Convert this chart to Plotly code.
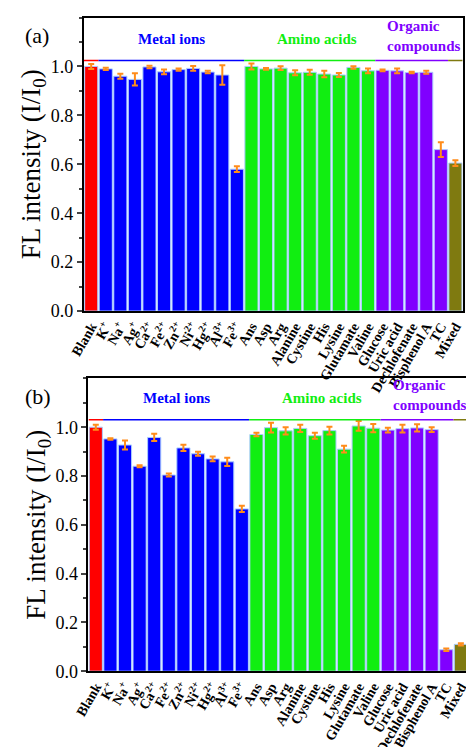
import plotly.graph_objects as go

categories = ["Blank", "K<sup>+</sup>", "Na<sup>+</sup>", "Ag<sup>+</sup>", "Ca<sup>2+</sup>", "Fe<sup>2+</sup>",
              "Zn<sup>2+</sup>", "Ni<sup>2+</sup>", "Hg<sup>2+</sup>", "Al<sup>3+</sup>", "Fe<sup>3+</sup>",
              "Ans", "Asp", "Arg", "Alanine", "Cystine", "His", "Lysine", "Glutamate", "Valine",
              "Glucose", "Uric acid", "Dechlofenate", "Bisphenol A", "TC", "Mixed"]
values_a = [1.0, 0.99, 0.96, 0.947, 0.998, 0.978, 0.987, 0.992, 0.977, 0.965, 0.58,
            1.0, 0.99, 0.993, 0.974, 0.976, 0.969, 0.965, 0.996, 0.982,
            0.984, 0.982, 0.975, 0.976, 0.66, 0.605]
errors_a = [0.01, 0.005, 0.01, 0.025, 0.005, 0.01, 0.005, 0.01, 0.005, 0.04, 0.012,
            0.012, 0.004, 0.008, 0.01, 0.01, 0.013, 0.008, 0.005, 0.01,
            0.004, 0.01, 0.003, 0.006, 0.03, 0.012]
values_b = [1.0, 0.952, 0.927, 0.84, 0.958, 0.804, 0.915, 0.891, 0.87, 0.858, 0.665,
            0.97, 0.998, 0.985, 0.995, 0.965, 0.986, 0.91, 1.005, 0.996,
            0.988, 0.994, 0.997, 0.99, 0.088, 0.11]
errors_b = [0.01, 0.003, 0.018, 0.004, 0.015, 0.006, 0.013, 0.008, 0.01, 0.017, 0.013,
            0.007, 0.02, 0.015, 0.015, 0.012, 0.016, 0.014, 0.02, 0.017,
            0.01, 0.016, 0.015, 0.01, 0.005, 0.005]

RED, BLUE, GREEN, PURPLE, OLIVE = "#ff0000", "#0000ff", "#11ee11", "#8000ff", "#7f7a10"
colors = [RED] + [BLUE] * 10 + [GREEN] * 9 + [PURPLE] * 5 + [OLIVE]
groups = [(-0.5, 0.5, RED), (0.5, 10.5, BLUE), (10.5, 19.5, GREEN), (19.5, 24.5, PURPLE), (24.5, 25.5, OLIVE)]
x = list(range(len(categories)))
font = "Times New Roman, Liberation Serif, serif"

fig = go.Figure()
panels = [("x", "y", values_a, errors_a, [0.133, 0.96], [0.586, 0.987], 1.024, "(a)"),
          ("x2", "y2", values_b, errors_b, [0.143, 0.972], [0.094, 0.494], 1.03, "(b)")]
for i, (xr, yr, vals, errs, dx, dy, lineY, lab) in enumerate(panels):
    fig.add_trace(go.Bar(x=x, y=vals, xaxis=xr, yaxis=yr, marker=dict(color=colors, line=dict(color="#aaccff", width=1)),
                         error_y=dict(type="data", array=errs, color="#ff8c1a", thickness=2, width=3),
                         showlegend=False))
    sfx = "" if i == 0 else "2"
    fig.layout["xaxis" + sfx] = dict(domain=dx, anchor=yr, range=[-0.5, 25.5], tickvals=x, ticktext=["<b>%s</b>" % c for c in categories],
                                     tickangle=-60, tickfont=dict(family=font, size=14, color="black"),
                                     showline=True, linecolor="black", linewidth=2, mirror=True, ticks="")
    fig.layout["yaxis" + sfx] = dict(domain=dy, anchor=xr, range=[0, 1.2], tickvals=[0, 0.2, 0.4, 0.6, 0.8, 1.0],
                                     tickformat=".1f", tickfont=dict(family=font, size=18, color="black"),
                                     ticks="outside", ticklen=5, tickwidth=2, minor=dict(ticks="outside", dtick=0.1, ticklen=3, tickwidth=1.5),
                                     showline=True, linecolor="black", linewidth=2, mirror=True, showgrid=False, zeroline=False,
                                     title=dict(text="FL intensity (I/I<sub>0</sub>)", font=dict(family=font, size=27, color="black"), standoff=2))
    for (a, b, c) in groups:
        fig.add_shape(type="line", xref=xr, yref=yr, x0=a, x1=b, y0=lineY, y1=lineY, line=dict(color=c, width=1.5))
    fig.add_annotation(xref=xr, yref=yr, x=5.5, y=lineY + 0.09, text="<b>Metal ions</b>", showarrow=False,
                       font=dict(family=font, size=15, color=BLUE))
    fig.add_annotation(xref=xr, yref=yr, x=15.5, y=lineY + 0.09, text="<b>Amino acids</b>", showarrow=False,
                       font=dict(family=font, size=15, color=GREEN))
    fig.add_annotation(xref=xr, yref=yr, x=20.2, y=lineY + 0.1, text="<b>Organic<br>compounds</b>", showarrow=False, xanchor="left",
                       align="left", font=dict(family=font, size=15, color=PURPLE))
    fig.add_annotation(xref="paper", yref="paper", x=0.0, y=dy[1] - 0.005, text=lab, showarrow=False, xanchor="left", yanchor="top",
                       font=dict(family=font, size=22, color="black"))

fig.update_layout(width=474, height=747, margin=dict(l=0, r=0, t=0, b=0), bargap=0.1,
                  plot_bgcolor="white", paper_bgcolor="white")
fig.write_html("out.html")
